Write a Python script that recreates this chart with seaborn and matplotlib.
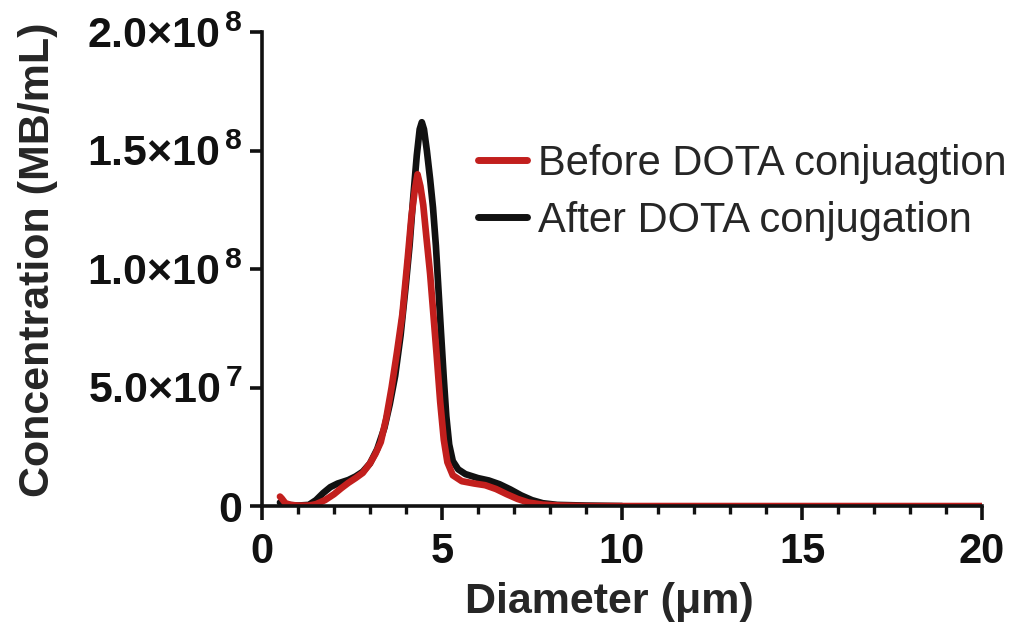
import numpy as np
import pandas as pd
import matplotlib
matplotlib.use("Agg")
import matplotlib.pyplot as plt
from matplotlib.ticker import FuncFormatter, MultipleLocator
import seaborn as sns

# Particle size distributions (diameter in um, concentration in 1e7 MB/mL)
before_diameter = [0.50, 0.55, 0.65, 0.80, 1.00, 1.30, 1.50, 1.75, 2.00, 2.20,
                   2.40, 2.60, 2.80, 3.00, 3.15, 3.30, 3.45, 3.60, 3.75, 3.90,
                   4.05, 4.15, 4.25, 4.32, 4.40, 4.48, 4.57, 4.67, 4.75, 4.85,
                   4.95, 5.05, 5.15, 5.30, 5.55, 5.90, 6.20, 6.50, 6.80, 7.10,
                   7.40, 7.80, 8.30, 9.00, 10.0, 12.0, 15.0, 20.0]
before_conc = [0.40, 0.32, 0.12, 0.05, 0.02, 0.02, 0.08, 0.25, 0.50, 0.75,
               0.98, 1.18, 1.40, 1.80, 2.20, 2.70, 3.70, 5.00, 6.50, 8.10,
               10.5, 12.2, 13.4, 14.0, 13.5, 12.7, 11.3, 9.80, 8.30, 6.40,
               4.40, 2.80, 1.85, 1.30, 1.05, 0.95, 0.88, 0.72, 0.50, 0.30,
               0.15, 0.06, 0.02, 0.00, 0.00, 0.00, 0.00, 0.00]

after_diameter = [0.50, 0.70, 1.00, 1.30, 1.50, 1.70, 1.90, 2.10, 2.40, 2.60,
                  2.80, 3.00, 3.20, 3.40, 3.55, 3.70, 3.85, 4.00, 4.10, 4.20,
                  4.30, 4.38, 4.44, 4.50, 4.58, 4.67, 4.75, 4.83, 4.90, 4.97,
                  5.05, 5.12, 5.20, 5.30, 5.45, 5.65, 6.00, 6.30, 6.60, 6.90,
                  7.20, 7.50, 7.80, 8.20, 9.00, 10.0]
after_conc = [0.15, 0.05, 0.02, 0.05, 0.25, 0.55, 0.80, 0.95, 1.10, 1.25,
              1.45, 1.80, 2.40, 3.30, 4.30, 5.50, 7.20, 9.40, 11.0, 13.0,
              14.8, 15.9, 16.2, 15.9, 15.0, 13.8, 12.6, 11.0, 9.20, 7.40,
              5.40, 3.80, 2.60, 1.90, 1.55, 1.35, 1.18, 1.08, 0.92, 0.70,
              0.45, 0.25, 0.12, 0.05, 0.02, 0.00]

labels = ["Before DOTA conjuagtion", "After DOTA conjugation"]
colors = ["#c21f1d", "#111111"]

before = pd.DataFrame({"d": before_diameter, "c": np.array(before_conc) * 1e7})
after = pd.DataFrame({"d": after_diameter, "c": np.array(after_conc) * 1e7})

sns.set_theme(style="ticks")
plt.rcParams["font.family"] = ["Liberation Sans", "DejaVu Sans"]
plt.rcParams["mathtext.fontset"] = "custom"
plt.rcParams["mathtext.rm"] = "Liberation Sans:bold"
plt.rcParams["mathtext.bf"] = "Liberation Sans:bold"
plt.rcParams["mathtext.it"] = "Liberation Sans:bold"

fig = plt.figure(figsize=(10.17, 6.31), dpi=100)
ax = fig.add_axes([0.2576, 0.198, 0.708, 0.751])

sns.lineplot(data=after, x="d", y="c", ax=ax, color=colors[1], linewidth=4.8,
             sort=False, label=labels[1])
sns.lineplot(data=before, x="d", y="c", ax=ax, color=colors[0], linewidth=4.8,
             sort=False, label=labels[0])

ax.set_xlim(0, 20)
ax.set_ylim(0, 2e8)
ax.xaxis.set_major_locator(MultipleLocator(5))
ax.xaxis.set_minor_locator(MultipleLocator(1))
ax.yaxis.set_major_locator(MultipleLocator(5e7))


def sci_label(v, pos):
    if v == 0:
        return "0"
    exp = int(np.floor(np.log10(abs(v)) + 1e-9))
    mant = v / 10 ** exp
    return r"$\mathbf{%.1f{\times}10^{\,%d}}$" % (mant, exp)


ax.yaxis.set_major_formatter(FuncFormatter(sci_label))
ax.xaxis.set_major_formatter(FuncFormatter(lambda v, p: "%d" % v))

for s in ["top", "right"]:
    ax.spines[s].set_visible(False)
for s in ["left", "bottom"]:
    ax.spines[s].set_linewidth(2.6)
    ax.spines[s].set_color("#111111")

ax.tick_params(axis="y", which="major", direction="out", length=9,
               width=2.6, colors="#111111", labelsize=31, pad=5)
ax.tick_params(axis="x", which="major", direction="out", length=10,
               width=2.6, colors="#111111", labelsize=30, pad=9)
ax.tick_params(axis="x", which="minor", direction="out", length=6,
               width=2.4, colors="#111111")
for lbl in ax.get_xticklabels() + ax.get_yticklabels():
    lbl.set_fontweight("bold")

ax.set_xlabel("Diameter (\u03bcm)", fontsize=31, fontweight="bold")
ax.set_ylabel("Concentration (MB/mL)", fontsize=31, fontweight="bold")
ax.xaxis.set_label_coords(0.483, -0.160)
ax.yaxis.set_label_coords(-0.283, 0.519)

handles, lab = ax.get_legend_handles_labels()
order = [lab.index(labels[0]), lab.index(labels[1])]
leg = ax.legend([handles[i] for i in order], [lab[i] for i in order],
                loc="upper left", bbox_to_anchor=(0.30, 0.764), frameon=False,
                fontsize=30, handlelength=1.18, handletextpad=0.25,
                labelspacing=0.4, borderaxespad=0, borderpad=0)
for line in leg.get_lines():
    line.set_linewidth(5)

fig.savefig("out.png", dpi=100)
